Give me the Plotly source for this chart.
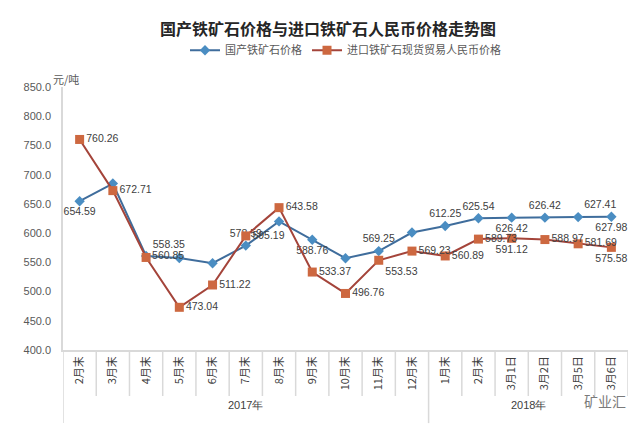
import plotly.graph_objects as go

# categories (x axis), two year groups
months_2017 = ['2月末', '3月末', '4月末', '5月末', '6月末', '7月末', '8月末', '9月末', '10月末', '11月末', '12月末']
months_2018 = ['1月末', '2月末', '3月1日', '3月2日', '3月5日', '3月6日']
years = ['2017年', '2018年']

# 国产铁矿石价格
domestic = [654.59, 684.8, 560.85, 557.5, 548.5, 578.59, 620.0, 588.76, 557.0, 569.25,
            601.0, 612.25, 625.54, 626.42, 626.42, 627.41, 627.98]
# which points carry a data label in the source
domestic_shown = [1, 0, 1, 0, 0, 1, 0, 1, 0, 1, 0, 1, 1, 1, 1, 1, 1]

# 进口铁矿石现货贸易人民币价格
imported = [760.26, 672.71, 558.35, 473.04, 511.22, 595.19, 643.58, 533.37, 496.76, 553.53,
            569.23, 560.89, 589.73, 591.12, 588.97, 581.69, 575.58]

labels = months_2017 + months_2018
x = list(range(len(labels)))

dom_pos = ['bottom center', 'top center', 'middle right', 'top center', 'top center', 'top center',
           'top center', 'bottom center', 'top center', 'top center', 'top center', 'top center',
           'top center', 'bottom center', 'top center', 'top right', 'bottom center']
imp_pos = ['middle right', 'middle right', 'top right', 'middle right', 'middle right', 'middle right',
           'middle right', 'middle right', 'middle right', 'bottom right', 'middle right', 'middle right',
           'middle right', 'bottom center', 'middle right', 'middle right', 'bottom center']

BLUE_LINE = '#3f6d9c'
BLUE_MARK = '#4a8dc2'
RED_LINE = '#a4443a'
RED_MARK = '#cd6840'
GRID = '#d9d9d9'
TXT = '#404040'
FONT = 'Noto Sans CJK SC'

fig = go.Figure()
fig.add_trace(go.Scatter(
    x=x, y=domestic, name='国产铁矿石价格', mode='lines+markers+text',
    line=dict(color=BLUE_LINE, width=2),
    marker=dict(symbol='diamond', size=8, color=BLUE_MARK),
    text=['%.2f' % v if s else '' for v, s in zip(domestic, domestic_shown)],
    textposition=dom_pos,
    textfont=dict(family='Liberation Sans', size=10.5, color=TXT),
    cliponaxis=False))
fig.add_trace(go.Scatter(
    x=x, y=imported, name='进口铁矿石现货贸易人民币价格', mode='lines+markers+text',
    line=dict(color=RED_LINE, width=2),
    marker=dict(symbol='square', size=9, color=RED_MARK),
    text=['%.2f' % v for v in imported],
    textposition=imp_pos,
    textfont=dict(family='Liberation Sans', size=10.5, color=TXT),
    cliponaxis=False))

# category dividers below the x axis
shapes = []
n = len(labels)
for i in range(n + 1):
    bottom = -0.175
    if i == 0 or i == len(months_2017):
        bottom = -0.278
    shapes.append(dict(type='line', xref='x', yref='paper', x0=i - 0.5, x1=i - 0.5,
                       y0=0, y1=bottom, line=dict(color=GRID, width=1.5)))

annotations = [
    dict(text='元/吨', xref='paper', yref='paper', x=-0.022, y=1.03, xanchor='left', yanchor='middle',
         showarrow=False, font=dict(family=FONT, size=11, color='#595959')),
    dict(text=years[0], xref='x', yref='paper', x=(len(months_2017) - 1) / 2, y=-0.24,
         showarrow=False, font=dict(family='Liberation Sans', size=11, color=TXT)),
    dict(text=years[1], xref='x', yref='paper', x=len(months_2017) + (len(months_2018) - 1) / 2, y=-0.24,
         showarrow=False, font=dict(family='Liberation Sans', size=11, color=TXT)),
    dict(text='矿业汇', xref='paper', yref='paper', x=1.0, y=-0.24, xanchor='right',
         showarrow=False, font=dict(family=FONT, size=14, color='#7a7a7a')),
]

fig.update_layout(
    width=640, height=436,
    margin=dict(l=55, r=20, t=79, b=94),
    paper_bgcolor='white', plot_bgcolor='white',
    title=dict(text='<b>国产铁矿石价格与进口铁矿石人民币价格走势图</b>', x=0.5, xanchor='center',
               y=0.95, yanchor='middle', font=dict(family=FONT, size=16, color='#262626')),
    legend=dict(orientation='h', x=0.5, xanchor='center', y=1.14, yanchor='middle',
                font=dict(family=FONT, size=11, color='#595959'), itemwidth=30),
    xaxis=dict(tickmode='array', tickvals=x, ticktext=labels, tickangle=-90,
               range=[-0.5, n - 0.5], showgrid=False, zeroline=False,
               showline=True, linecolor=GRID, linewidth=1.5, ticks='',
               tickfont=dict(family=FONT, size=11, color=TXT)),
    yaxis=dict(range=[400, 850], dtick=50, tickformat='.1f', showgrid=False, zeroline=False,
               showline=True, linecolor=GRID, linewidth=1.5, ticks='', ticklabelstandoff=8,
               tickfont=dict(family='Liberation Sans', size=11, color='#595959')),
    shapes=shapes, annotations=annotations,
)

fig.write_html("out.html")
